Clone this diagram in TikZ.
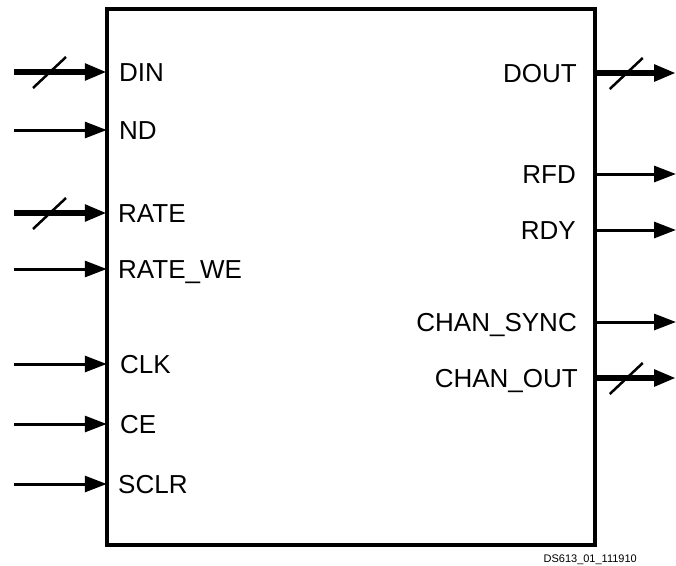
\documentclass[tikz,border=0pt]{standalone}
\usepackage{fontspec}
\setmainfont{Liberation Sans}
\usetikzlibrary{arrows.meta}
\usetikzlibrary{calc}
\usetikzlibrary{positioning}
\tikzset{pin/.style={draw, line width=3pt, -{Triangle[length=22pt,width=16pt]}},
            bus/.style={pin, line width=5.5pt},
            inpin/.style={pin, shorten >=-1.5pt},
            inbus/.style={bus, shorten >=-1.5pt},
            slash/.style={draw, line width=2.5pt},
            inlbl/.style={anchor=west, inner sep=0pt, text height=19pt, text depth=0pt,
                font=\fontsize{26}{26}\selectfont},
            outlbl/.style={inlbl, anchor=east}}

\begin{document}
\begin{tikzpicture}[x=1pt,y=-1pt]
\useasboundingbox (0,0) rectangle (676,565);
\node [draw, line width=3.5pt, minimum width=488pt, minimum height=536pt, inner sep=0pt]
    (blk) at (351,277) {};
%
% inputs
\node [inlbl] (din) at (119,72) {DIN};
\node [inlbl] (nd) at (119,130) {ND};
\node [inlbl] (rate) at (118,213) {RATE};
\node [inlbl] (ratewe) at (118,269) {RATE\_WE};
\node [inlbl] (clk) at (120,364) {CLK};
\node [inlbl] (ce) at (120,424) {CE};
\node [inlbl] (sclr) at (118,484) {SCLR};
\coordinate (din-in) at (14,72);
\coordinate (nd-in) at (14,130);
\coordinate (rate-in) at (14,213);
\coordinate (ratewe-in) at (14,269);
\coordinate (clk-in) at (14,364);
\coordinate (ce-in) at (14,424);
\coordinate (sclr-in) at (14,484);
\draw [inbus] (din-in) -- (din -| blk.west);
\draw [inpin] (nd-in) -- (nd -| blk.west);
\draw [inbus] (rate-in) -- (rate -| blk.west);
\draw [inpin] (ratewe-in) -- (ratewe -| blk.west);
\draw [inpin] (clk-in) -- (clk -| blk.west);
\draw [inpin] (ce-in) -- (ce -| blk.west);
\draw [inpin] (sclr-in) -- (sclr -| blk.west);
\draw [slash] ($(din-in)+(19,16)$) -- ++(33,-31);
\draw [slash] ($(rate-in)+(19,16)$) -- ++(33,-31);
%
% outputs
\node [outlbl] (dout) at (577,73) {DOUT};
\node [outlbl] (rfd) at (576,174) {RFD};
\node [outlbl] (rdy) at (576,230) {RDY};
\node [outlbl] (sync) at (577,322) {CHAN\_SYNC};
\node [outlbl] (chout) at (578,378) {CHAN\_OUT};
\coordinate (dout-out) at (676,73);
\coordinate (rfd-out) at (676,174);
\coordinate (rdy-out) at (676,230);
\coordinate (sync-out) at (676,322);
\coordinate (chout-out) at (676,378);
\draw [bus] (dout -| blk.east) -- (dout-out);
\draw [pin] (rfd -| blk.east) -- (rfd-out);
\draw [pin] (rdy -| blk.east) -- (rdy-out);
\draw [pin] (sync -| blk.east) -- (sync-out);
\draw [bus] (chout -| blk.east) -- (chout-out);
\draw [slash] ($(dout -| blk.east)+(13,16)$) -- ++(33,-31);
\draw [slash] ($(chout -| blk.east)+(13,16)$) -- ++(33,-31);
%
\node [anchor=east, inner sep=0pt, font=\fontsize{11}{11}\selectfont] (tag) at (637,560)
    {DS613\_01\_111910};
\end{tikzpicture}
\end{document}
